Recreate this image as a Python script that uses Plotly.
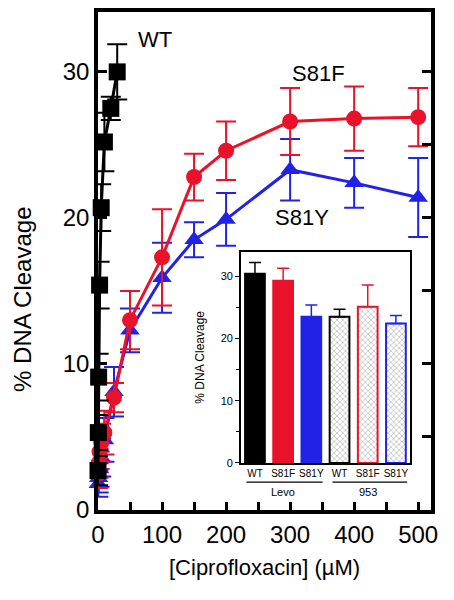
import plotly.graph_objects as go

# ---- main chart data ----
wt_x = [0, 0.5, 1, 2.5, 5, 10, 20, 30]
wt_y = [2.7, 5.3, 9.1, 15.4, 20.7, 25.2, 27.5, 30.0]
wt_err = [1.0, 1.2, 1.6, 1.6, 1.6, 2.0, 0.8, 1.9]

s81f_x = [0.5, 1, 2.5, 5, 10, 25, 50, 100, 150, 200, 300, 400, 500]
s81f_y = [2.5, 3.2, 4.0, 4.6, 5.3, 7.7, 13.0, 17.3, 22.8, 24.6, 26.6, 26.8, 26.9]
s81f_err = [1.0, 1.0, 1.2, 1.3, 1.5, 1.0, 2.0, 3.3, 1.6, 2.0, 2.3, 2.2, 2.0]

s81y_x = [0.5, 1, 2.5, 5, 10, 25, 50, 100, 150, 200, 300, 400, 500]
s81y_y = [1.8, 2.2, 2.8, 3.6, 4.8, 8.1, 12.3, 15.9, 18.5, 19.9, 23.3, 22.4, 21.4]
s81y_err = [0.9, 1.0, 1.2, 1.3, 1.5, 1.7, 1.5, 2.4, 1.2, 1.8, 2.1, 1.7, 2.7]

# ---- inset data ----
bar_labels = ["WT", "S81F", "S81Y", "WT", "S81F", "S81Y"]
bar_values = [30.4, 29.3, 23.5, 23.5, 25.1, 22.4]
bar_err = [1.8, 2.0, 1.9, 1.2, 3.5, 1.3]
group_labels = ["Levo", "953"]

RED = "#E8132A"
BLUE = "#2222E6"
FONT = "Liberation Sans, Arial, sans-serif"

fig = go.Figure()

def series(x, y, err, color, symbol, size):
    fig.add_trace(go.Scatter(
        x=x, y=y, mode="lines+markers",
        line=dict(color=color, width=3),
        marker=dict(symbol=symbol, size=size, color=color, line=dict(width=0)),
        error_y=dict(type="data", array=err, visible=True, color=color,
                     thickness=2, width=10),
        cliponaxis=False, showlegend=False))

series(s81y_x, s81y_y, s81y_err, BLUE, "triangle-up", 17)
series(s81f_x, s81f_y, s81f_err, RED, "circle", 16)
series(wt_x, wt_y, wt_err, "black", "square", 17)

# inset bars
xcat = list(range(len(bar_labels)))
fills = ["black", RED, BLUE, "white", "white", "white"]
lines = ["black", RED, BLUE, "black", RED, BLUE]
fg = ["black", RED, BLUE, "#888888", "#F08A94", "#8A8AF0"]
shapes_p = ["", "", "", "x", "x", "x"]
fig.add_trace(go.Bar(
    x=xcat, y=bar_values, width=0.7, xaxis="x2", yaxis="y2",
    marker=dict(color=fills, line=dict(color=lines, width=2),
                pattern=dict(shape=shapes_p, fgcolor=fg, bgcolor="white",
                             size=4, solidity=0.25)),
    showlegend=False, hoverinfo="skip"))
for i in xcat:
    fig.add_trace(go.Scatter(
        x=[i], y=[bar_values[i]], mode="markers", marker=dict(size=1, color="rgba(0,0,0,0)"),
        xaxis="x2", yaxis="y2",
        error_y=dict(type="data", symmetric=False, array=[bar_err[i]], arrayminus=[0],
                     color=lines[i], thickness=1.5, width=6),
        showlegend=False, hoverinfo="skip"))

# page body has an 8px margin, so the figure is 8px smaller and shifted
fig.update_layout(
    width=446, height=592,
    margin=dict(l=90, r=23, t=4, b=90),
    paper_bgcolor="white", plot_bgcolor="white",
    font=dict(family=FONT, color="black"),
    xaxis=dict(range=[0, 520], showline=True, linewidth=3.5, linecolor="black",
               mirror=True, ticks="inside", ticklen=8, tickwidth=2.5, tickcolor="black",
               tickvals=[0, 100, 200, 300, 400, 500], automargin=False,
               minor=dict(tickvals=[50, 150, 250, 350, 450], ticks="inside",
                          ticklen=8, tickwidth=2.5, tickcolor="black"),
               tickfont=dict(size=24), showgrid=False, zeroline=False),
    yaxis=dict(range=[0, 34.1], showline=True, linewidth=3.5, linecolor="black",
               mirror="ticks", ticks="inside", ticklen=9, tickwidth=2.5, tickcolor="black",
               tickvals=[0, 10, 20, 30], automargin=False,
               minor=dict(tickvals=[5, 15, 25], ticks="inside", ticklen=9,
                          tickwidth=2.5, tickcolor="black"),
               tickfont=dict(size=24), showgrid=False, zeroline=False),
    xaxis2=dict(domain=[0.429, 0.937], anchor="y2", range=[-0.5, 5.5],
                showline=True, linewidth=1.5, linecolor="black", mirror=True,
                tickvals=xcat, ticktext=bar_labels, ticks="", tickangle=0,
                automargin=False,
                tickfont=dict(size=10), showgrid=False, zeroline=False),
    yaxis2=dict(domain=[0.0944, 0.518], anchor="x2", range=[0, 33.9],
                showline=True, linewidth=1.5, linecolor="black", mirror=True,
                ticks="outside", ticklen=4, tickwidth=1.2, tickcolor="black",
                tickvals=[0, 10, 20, 30], automargin=False,
                minor=dict(tickvals=[5, 15, 25], ticks="outside", ticklen=3,
                           tickwidth=1.2, tickcolor="black"),
                tickfont=dict(size=11), showgrid=False, zeroline=False),
)

def note(text, x, y, size, xref="paper", yref="paper", angle=0, xanchor="center"):
    return dict(text=text, x=x, y=y, xref=xref, yref=yref, textangle=angle,
                xanchor=xanchor, yanchor="middle", font=dict(size=size), showarrow=False)

ann = [
    note("% DNA Cleavage", -0.225, 0.422, 24, angle=-90),
    note("[Ciprofloxacin] (µM)", 0.5, -0.116, 22),
    note("WT", 60, 32.2, 22, "x", "y", xanchor="left"),
    note("S81F", 344, 29.9, 22, "x", "y"),
    note("S81Y", 319, 20.0, 22, "x", "y"),
    note("% DNA Cleavage", 0.308, 0.307, 12, angle=-90),
    note(group_labels[0], 1, 0.036, 11, "x2", "paper"),
    note(group_labels[1], 4, 0.036, 11, "x2", "paper"),
]
fig.update_layout(annotations=ann)
fig.update_layout(shapes=[
    dict(type="line", xref="x2", yref="paper", x0=-0.3, x1=2.4, y0=0.056, y1=0.056,
         line=dict(color="black", width=1.2)),
    dict(type="line", xref="x2", yref="paper", x0=2.75, x1=5.4, y0=0.056, y1=0.056,
         line=dict(color="black", width=1.2)),
])

fig.write_html("out.html")
